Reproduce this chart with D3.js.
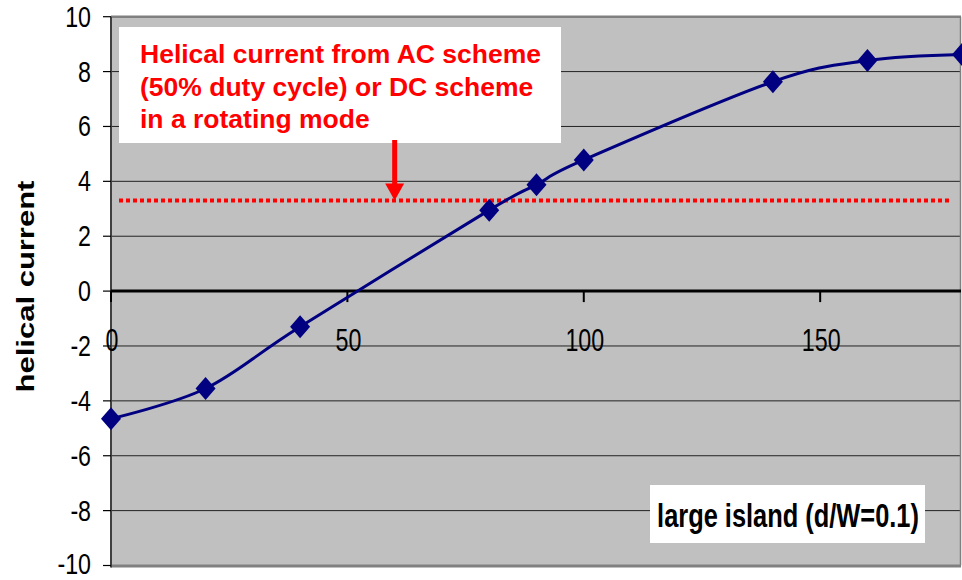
<!DOCTYPE html>
<html><head><meta charset="utf-8">
<script src="https://cdn.jsdelivr.net/npm/d3@7"></script>
<style>html,body{margin:0;padding:0;background:#fff;}svg{display:block;}</style>
</head><body>
<svg id="c" width="962" height="580"></svg>
<script>
const xValues = [0, 20, 40, 80, 90, 100, 140, 160, 180];
const yValues = [-4.65, -3.55, -1.3, 2.95, 3.88, 4.78, 7.63, 8.4, 8.62];
const xTicks = [0, 50, 100, 150];
const yTicks = [-10, -8, -6, -4, -2, 0, 2, 4, 6, 8, 10];
const refLevel = [3.3];
const arrowAt = [60];
const noteLines = ["Helical current from AC scheme", "(50% duty cycle) or DC scheme", "in a rotating mode"];
const caseLabel = ["large island (d/W=0.1)"];
const yTitle = ["helical current"];

const FONT = "'Liberation Sans', Arial, sans-serif";
const svg = d3.select("#c");
const x = d3.scaleLinear().domain([0, 180]).range([111, 962]);
const y = d3.scaleLinear().domain([-10, 10]).range([565.5, 16.7]);

// plot background
svg.append("rect").attr("x", x(0)).attr("y", y(10)).attr("width", 960 - x(0)).attr("height", y(-10) - y(10)).attr("fill", "#c0c0c0");

// gridlines
svg.append("g").selectAll("line").data(yTicks.filter(d => d !== 0 && d !== 10 && d !== -10)).join("line")
  .attr("x1", x(0)).attr("x2", 960).attr("y1", d => y(d)).attr("y2", d => y(d))
  .attr("stroke", "#222").attr("stroke-width", 1);

// borders
svg.append("line").attr("x1", x(0)).attr("x2", 961).attr("y1", y(10)).attr("y2", y(10)).attr("stroke", "#808080").attr("stroke-width", 2.5);
svg.append("line").attr("x1", x(0)).attr("x2", 961).attr("y1", y(-10)+0.5).attr("y2", y(-10)+0.5).attr("stroke", "#808080").attr("stroke-width", 3);
svg.append("line").attr("x1", 960.5).attr("x2", 960.5).attr("y1", y(10)).attr("y2", y(-10)).attr("stroke", "#808080").attr("stroke-width", 1.5);

// annotation box
const noteBox = svg.append("g");
noteBox.append("rect").attr("x", 119).attr("y", 27).attr("width", 442).attr("height", 116).attr("fill", "#fff");
noteBox.selectAll("text").data(noteLines).join("text")
  .attr("x", 140).attr("y", (d, i) => 63 + i * 32.5)
  .attr("font-family", FONT).attr("font-weight", "bold").attr("font-size", 26.5)
  .attr("fill", "#ff0000").text(d => d);

// case label box
const cl = svg.append("g");
cl.append("rect").attr("x", 650).attr("y", 485).attr("width", 275).attr("height", 58).attr("fill", "#fff");
cl.selectAll("text").data(caseLabel).join("text")
  .attr("transform", "translate(788,527) scale(0.77,1)")
  .attr("text-anchor", "middle")
  .attr("font-family", FONT).attr("font-weight", "bold").attr("font-size", 33)
  .attr("fill", "#000").text(d => d);

// y axis
svg.append("line").attr("x1", x(0)).attr("x2", x(0)).attr("y1", y(10)).attr("y2", y(-10)+2).attr("stroke", "#404040").attr("stroke-width", 2);
svg.append("g").selectAll("line").data(yTicks).join("line")
  .attr("x1", 103).attr("x2", x(0)).attr("y1", d => y(d)).attr("y2", d => y(d))
  .attr("stroke", "#000").attr("stroke-width", 1.2);
svg.append("g").selectAll("text").data(yTicks).join("text")
  .attr("transform", d => `translate(91,${Math.min(y(d) + 10, 573.5)}) scale(0.8,1)`)
  .attr("text-anchor", "end")
  .attr("font-family", FONT).attr("font-size", 29).attr("fill", "#000")
  .text(d => d);

// y title
svg.selectAll("text.yt").data(yTitle).join("text").attr("class", "yt")
  .attr("transform", "translate(34,286.5) rotate(-90) scale(1,0.8)")
  .attr("text-anchor", "middle")
  .attr("font-family", FONT).attr("font-weight", "bold").attr("font-size", 31)
  .attr("fill", "#000").text(d => d);

// zero axis
svg.append("line").attr("x1", x(0)).attr("x2", 961).attr("y1", y(0)).attr("y2", y(0)).attr("stroke", "#000").attr("stroke-width", 3);
svg.append("g").selectAll("line").data(xTicks).join("line")
  .attr("x1", d => x(d)).attr("x2", d => x(d)).attr("y1", y(0)).attr("y2", y(0) + 11)
  .attr("stroke", "#000").attr("stroke-width", 2);
svg.append("g").selectAll("text").data(xTicks).join("text")
  .attr("transform", d => `translate(${x(d) + 1},351) scale(0.75,1)`)
  .attr("text-anchor", "middle")
  .attr("font-family", FONT).attr("font-size", 31).attr("fill", "#000")
  .text(d => d);

// reference dotted line
svg.append("g").selectAll("line").data(refLevel).join("line")
  .attr("x1", 119).attr("x2", 952).attr("y1", d => y(d)).attr("y2", d => y(d))
  .attr("stroke", "#ff0000").attr("stroke-width", 4).attr("stroke-dasharray", "4,3");

// arrow
const ax = x(arrowAt[0]);
const tipY = y(refLevel[0]);
svg.append("line").attr("x1", ax).attr("x2", ax).attr("y1", 140).attr("y2", tipY - 14)
  .attr("stroke", "#ff0000").attr("stroke-width", 5);
svg.append("path").attr("d", `M${ax - 9.5},${tipY - 17} L${ax + 9.5},${tipY - 17} L${ax},${tipY} Z`).attr("fill", "#ff0000");

// data line
const pts = xValues.map((v, i) => [v, yValues[i]]);
svg.append("path").datum(pts)
  .attr("d", d3.line().x(d => x(d[0])).y(d => y(d[1])).curve(d3.curveCardinal.tension(0)))
  .attr("fill", "none").attr("stroke", "#000080").attr("stroke-width", 3);
svg.append("g").selectAll("path").data(pts).join("path")
  .attr("transform", d => `translate(${x(d[0])},${y(d[1])})`)
  .attr("d", "M0,-11.5L10,0L0,11.5L-10,0Z").attr("fill", "#000080");
</script>
</body></html>
